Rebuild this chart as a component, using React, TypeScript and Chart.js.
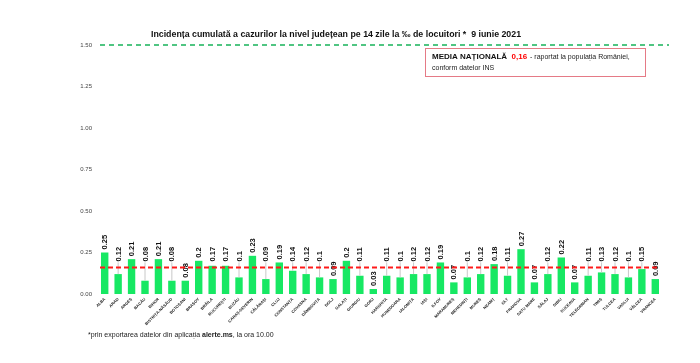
import React, { useEffect, useRef } from "react";
import { Chart, registerables } from "chart.js";

Chart.register(...registerables);

const counties = [
  "ALBA", "ARAD", "ARGEȘ", "BACĂU", "BIHOR", "BISTRIȚA-NĂSĂUD", "BOTOȘANI", "BRAȘOV", "BRĂILA", "BUCUREȘTI",
  "BUZĂU", "CARAȘ-SEVERIN", "CĂLĂRAȘI", "CLUJ", "CONSTANȚA", "COVASNA", "DÂMBOVIȚA", "DOLJ", "GALAȚI", "GIURGIU",
  "GORJ", "HARGHITA", "HUNEDOARA", "IALOMIȚA", "IAȘI", "ILFOV", "MARAMUREȘ", "MEHEDINȚI", "MUREȘ", "NEAMȚ",
  "OLT", "PRAHOVA", "SATU MARE", "SĂLAJ", "SIBIU", "SUCEAVA", "TELEORMAN", "TIMIȘ", "TULCEA", "VASLUI",
  "VÂLCEA", "VRANCEA",
];

const incidence = [
  0.25, 0.12, 0.21, 0.08, 0.21, 0.08, 0.08, 0.2, 0.17, 0.17,
  0.1, 0.23, 0.09, 0.19, 0.14, 0.12, 0.1, 0.09, 0.2, 0.11,
  0.03, 0.11, 0.1, 0.12, 0.12, 0.19, 0.07, 0.1, 0.12, 0.18,
  0.11, 0.27, 0.07, 0.12, 0.22, 0.07, 0.11, 0.13, 0.12, 0.1,
  0.15, 0.09,
];

const nationalAverage = 0.16;
const alertThreshold = 1.5;
const yTicks = [0, 0.25, 0.5, 0.75, 1.0, 1.25, 1.5];

// labels that stay next to their bar instead of being lifted above the average line
const labelsAtBar = new Set(["BOTOȘANI", "DOLJ", "GORJ", "MARAMUREȘ", "SATU MARE", "SUCEAVA", "VRANCEA"]);

const titleText = "Incidența cumulată a cazurilor la nivel județean pe 14 zile la ‰ de locuitori *  9 iunie 2021";
const footPre = "*prin exportarea datelor din aplicația ";
const footBold = "alerte.ms";
const footPost = ", la ora 10.00";

const FONT = "'Liberation Sans', Arial, sans-serif";

const overlayPlugin = {
  id: "overlay",
  afterDatasetsDraw(chart: any) {
    const { ctx, chartArea, scales } = chart;
    const y = scales.y;
    const meta = chart.getDatasetMeta(0);
    ctx.save();

    // green dashed threshold line
    const yG = y.getPixelForValue(alertThreshold);
    ctx.strokeStyle = "#17b35a";
    ctx.lineWidth = 1.5;
    ctx.setLineDash([5, 4]);
    ctx.beginPath();
    ctx.moveTo(chartArea.left + 2, yG);
    ctx.lineTo(chartArea.right + 7, yG);
    ctx.stroke();

    const yR = y.getPixelForValue(nationalAverage);

    // data labels
    ctx.setLineDash([]);
    meta.data.forEach((bar: any, i: number) => {
      const v = incidence[i];
      const top = bar.y;
      let bottom = top - 3;
      if (!labelsAtBar.has(counties[i]) && top - 3 > yR - 6) {
        bottom = yR - 6;
      }
      if (top - bottom > 6) {
        ctx.strokeStyle = "#c8c8c8";
        ctx.lineWidth = 1;
        ctx.beginPath();
        ctx.moveTo(bar.x, bottom + 1);
        ctx.lineTo(bar.x, top);
        ctx.stroke();
      }
      ctx.save();
      ctx.translate(bar.x, bottom);
      ctx.rotate(-Math.PI / 2);
      ctx.fillStyle = "#111";
      ctx.font = `bold 7.5px ${FONT}`;
      ctx.textAlign = "left";
      ctx.textBaseline = "middle";
      ctx.fillText(String(v), 0, 0.5);
      ctx.restore();
    });

    // red dashed average line
    ctx.strokeStyle = "#ff1a1a";
    ctx.lineWidth = 2;
    ctx.setLineDash([5, 3]);
    ctx.beginPath();
    ctx.moveTo(chartArea.left + 2, yR);
    ctx.lineTo(chartArea.right - 2, yR);
    ctx.stroke();
    ctx.setLineDash([]);

    // title
    ctx.fillStyle = "#111";
    ctx.font = `bold 8.8px ${FONT}`;
    ctx.textAlign = "center";
    ctx.textBaseline = "alphabetic";
    ctx.fillText(titleText, 336, 37);

    // legend box
    const bx = 425, by = 48, bw = 220, bh = 28;
    ctx.fillStyle = "#fff";
    ctx.fillRect(bx, by, bw, bh);
    ctx.strokeStyle = "#e57a86";
    ctx.lineWidth = 1;
    ctx.strokeRect(bx + 0.5, by + 0.5, bw, bh);
    ctx.textAlign = "left";
    let tx = bx + 7;
    ctx.font = `bold 8px ${FONT}`;
    ctx.fillStyle = "#111";
    const s1 = "MEDIA NAȚIONALĂ  ";
    ctx.fillText(s1, tx, by + 11);
    tx += ctx.measureText(s1).width;
    ctx.fillStyle = "#ff0000";
    const s2 = String(nationalAverage).replace(".", ",");
    ctx.fillText(s2, tx, by + 11);
    tx += ctx.measureText(s2).width;
    ctx.font = `7px ${FONT}`;
    ctx.fillStyle = "#222";
    ctx.fillText(" - raportat la populația României,", tx + 1, by + 11);
    ctx.fillText("conform datelor INS", bx + 7, by + 22);

    // footnote
    let fx = 88;
    const fy = 337;
    ctx.font = `7px ${FONT}`;
    ctx.fillStyle = "#222";
    ctx.fillText(footPre, fx, fy);
    fx += ctx.measureText(footPre).width;
    ctx.font = `bold 7px ${FONT}`;
    ctx.fillText(footBold, fx, fy);
    fx += ctx.measureText(footBold).width;
    ctx.font = `7px ${FONT}`;
    ctx.fillText(footPost, fx, fy);

    ctx.restore();
  },
};

export default function App() {
  const ref = useRef<HTMLCanvasElement | null>(null);
  useEffect(() => {
    if (!ref.current) return;
    const chart = new Chart(ref.current, {
      type: "bar",
      data: {
        labels: counties,
        datasets: [
          {
            data: incidence,
            backgroundColor: "#17e863",
            borderWidth: 0,
            barPercentage: 0.55,
            categoryPercentage: 1,
          },
        ],
      },
      options: {
        animation: false,
        responsive: false,
        devicePixelRatio: 1,
        layout: { padding: { top: 45, right: 38, left: 0, bottom: 0 } },
        plugins: { legend: { display: false }, tooltip: { enabled: false }, title: { display: false } },
        scales: {
          x: {
            grid: { display: false, drawTicks: false },
            border: { display: false },
            ticks: {
              autoSkip: false,
              minRotation: 45,
              maxRotation: 45,
              padding: 3,
              color: "#222",
              font: { size: 4, weight: "bold", family: FONT },
            },
            afterFit(scale: any) {
              scale.height = 69;
            },
          },
          y: {
            min: 0,
            max: alertThreshold,
            grid: { display: false, drawTicks: false },
            border: { display: false },
            afterBuildTicks(scale: any) {
              scale.ticks = yTicks.map((v) => ({ value: v }));
            },
            ticks: {
              padding: 6,
              color: "#444",
              font: { size: 6, family: FONT },
              callback: (v: any) => Number(v).toFixed(2),
            },
            afterFit(scale: any) {
              scale.width = 98;
            },
          },
        },
      },
      plugins: [overlayPlugin],
    });
    return () => chart.destroy();
  }, []);
  return (
    <div style={{ position: "fixed", left: 0, top: 0, width: 700, height: 363, background: "#fff" }}>
      <canvas ref={ref} width={700} height={363} />
    </div>
  );
}
